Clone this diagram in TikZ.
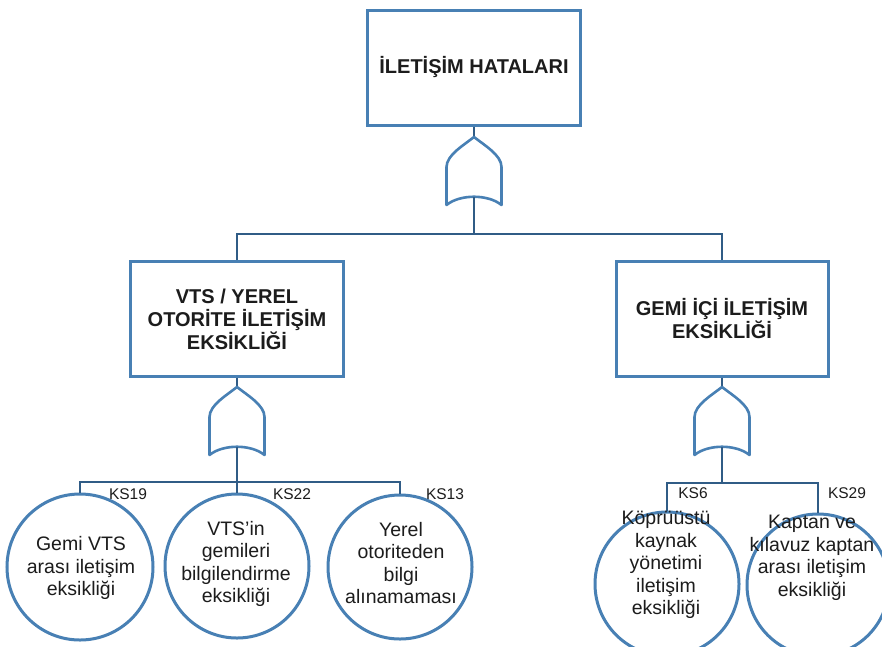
\documentclass[tikz,border=0pt]{standalone}
\usepackage{fontspec}
\setmainfont{Liberation Sans}
\definecolor{boxblue}{RGB}{72,128,180}
\definecolor{linecol}{RGB}{48,92,134}
\definecolor{txtcol}{RGB}{28,28,28}
\tikzset{
  evbox/.style={draw=boxblue, line width=3pt, fill=white, minimum width=213pt, minimum height=115pt, inner sep=0pt, align=center, text=txtcol, font=\bfseries\fontsize{20}{23}\selectfont},
  conn/.style={draw=linecol, line width=2.6pt},
  gateline/.style={draw=boxblue, line width=2.6pt, fill=white, line join=round},
  basic/.style={circle, draw=boxblue, line width=3pt, fill=white, inner sep=0pt},
  ctext/.style={align=center, text=txtcol, inner sep=0pt, font=\fontsize{19.5}{22.5}\selectfont},
  kslabel/.style={text=txtcol, inner sep=0pt, font=\fontsize{15.5}{17}\selectfont},
  orgate/.pic={
    \draw[gateline] (0,0) .. controls (-10,8) and (-27.5,18) .. (-27.5,30) -- (-27.5,68)
      .. controls (-14,57) and (14,57) .. (27.5,68) -- (27.5,30)
      .. controls (27.5,18) and (10,8) .. (0,0) -- cycle;
    \coordinate (-in) at (0,0);
    \coordinate (-out) at (0,60);
  }
}
\begin{document}
\begin{tikzpicture}[x=1pt,y=-1pt]
\clip (0,0) rectangle (882,646);
\fill[white] (0,0) rectangle (882,646);

% junction coordinates
\coordinate (j0) at (474,234);
\coordinate (j1) at (237,482);
\coordinate (j2) at (722,483);

% boxes
\node[evbox] (top) at (474,67.5) {İLETİŞİM HATALARI};
\node[evbox] (lbox) at (237,319) {VTS / YEREL\\OTORİTE İLETİŞİM\\EKSİKLİĞİ};
\node[evbox, minimum width=212pt] (rbox) at (722,318.5) {GEMİ İÇİ İLETİŞİM\\EKSİKLİĞİ};

% basic events
\node[basic, minimum size=146pt] (c1) at (80,567) {};
\node[basic, minimum size=144pt] (c2) at (237,566) {};
\node[basic, minimum size=144pt] (c3) at (400,567) {};
\node[basic, minimum size=144pt] (c4) at (667,584) {};
\node[basic, minimum size=142pt] (c5) at (818,585) {};

% connectors
\draw[conn] (top.south) -- (474,137);
\draw[conn] (lbox.south) -- (237,387);
\draw[conn] (rbox.south) -- (722,387);
\draw[conn] (474,190) -- (j0);
\draw[conn] (lbox.north) |- (j0) -| (rbox.north);
\draw[conn] (237,440) -- (j1);
\draw[conn] (c1.north) |- (j1) -| (c3.north);
\draw[conn] (j1) -- (c2.north);
\draw[conn] (722,440) -- (j2);
\draw[conn] (c4.north) |- (j2) -| (c5.north);

% gates
\pic (g0) at (474,137) {orgate};
\pic (g1) at (237,387) {orgate};
\pic (g2) at (722,387) {orgate};
\draw[conn] (g0-out) -- (j0);
\draw[conn] (g1-out) -- (j1);
\draw[conn] (g2-out) -- (j2);

% texts in circles
\node[ctext] (t1) at (81,568) {Gemi VTS\\arası iletişim\\eksikliği};
\node[ctext] (t2) at (236,564) {VTS'in\\gemileri\\bilgilendirme\\eksikliği};
\node[ctext] (t3) at (401,563) {Yerel\\otoriteden\\bilgi\\alınamaması};
\node[ctext] (t4) at (666,565) {Köprüüstü\\kaynak\\yönetimi\\iletişim\\eksikliği};
\node[ctext] (t5) at (812,558) {Kaptan ve\\kılavuz kaptan\\arası iletişim\\eksikliği};

% KS labels
\node[kslabel] (k1) at (128,494) {KS19};
\node[kslabel] (k2) at (292,494) {KS22};
\node[kslabel] (k3) at (445,494) {KS13};
\node[kslabel] (k4) at (693,493) {KS6};
\node[kslabel] (k5) at (847,493) {KS29};
\end{tikzpicture}
\end{document}
